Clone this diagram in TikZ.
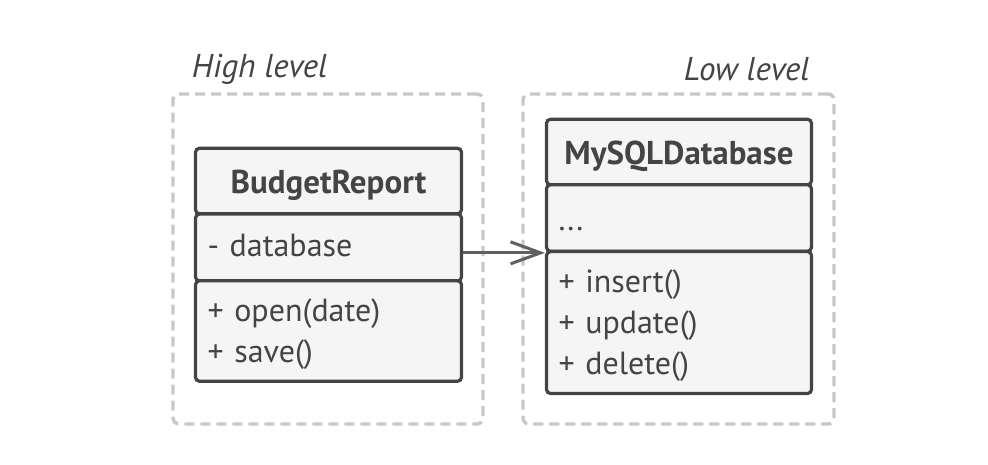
\documentclass[tikz,border=0pt]{standalone}
\usepackage{fontspec}
\setmainfont{PT Sans}
\usetikzlibrary{arrows.meta}
\definecolor{ink}{HTML}{444444}
\definecolor{boxfill}{HTML}{F5F5F5}
\definecolor{framegray}{HTML}{C8C8C8}
\definecolor{linkgray}{HTML}{606060}
\begin{document}
\begin{tikzpicture}[x=1pt,y=-1pt,
    font=\fontsize{32}{41}\selectfont,
    frame/.style={draw=framegray,line width=3.4pt,dash pattern=on 10pt off 6pt,rounded corners=6pt,minimum height=330pt},
    level/.style={text=ink,font=\itshape\fontsize{33}{41}\selectfont},
    part/.style={draw=ink,fill=boxfill,line width=3.2pt,rounded corners=4pt,text=ink,inner xsep=12pt,inner ysep=0pt,align=left},
    ops/.style={part,text height=29.5pt},
    head/.style={part,align=center,font=\bfseries\fontsize{33}{41}\selectfont,text height=24pt,text depth=0pt,minimum height=65.5pt},
    attr/.style={part,text height=22pt,text depth=4pt},
    link/.style={draw=linkgray,line width=3pt,-{Straight Barb[length=30pt,width=22pt]}}]
      \useasboundingbox (0,0) rectangle (988,464);
      \node[frame,minimum width=310pt] (highFrame) at (328,259) {};
      \node[frame,minimum width=311pt] (lowFrame) at (678.5,259) {};
      \node[level] (highLabel) at (259.5,69) {High level};
      \node[level] (lowLabel) at (746.5,69) {Low level};
      %
      \node[head,minimum width=266pt] (reportHead) at (328.5,181) {BudgetReport};
      \node[attr,text width=242pt,minimum height=67pt] (reportAttr) at (328.5,247.5) {- database};
      \node[ops,text width=242pt,minimum height=100.5pt] (reportOps) at (328.5,331) {+ open(date)\\+ save()};
      %
      \node[head,minimum width=265pt] (dbHead) at (679,152) {MySQLDatabase};
      \node[attr,text height=28pt,text width=241pt,minimum height=66.5pt] (dbAttr) at (679,218) {...};
      \node[ops,text width=241pt,minimum height=142pt] (dbOps) at (679,322.5) {+ insert()\\+ update()\\+ delete()};
      %
      \draw[link] (reportAttr.east |- dbAttr.south) -- (dbAttr.south west);
    \end{tikzpicture}
\end{document}
